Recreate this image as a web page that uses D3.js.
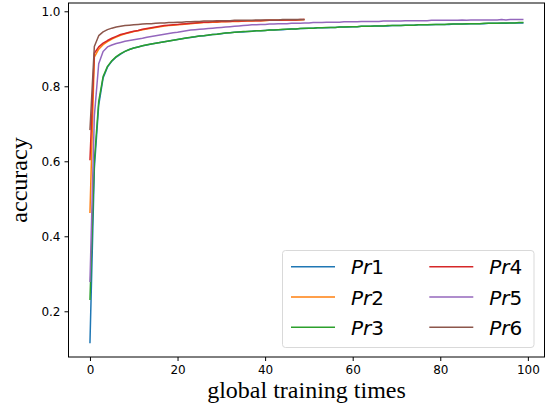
<!DOCTYPE html>
<html>
<head>
<meta charset="utf-8">
<script src="https://cdn.jsdelivr.net/npm/d3@7"></script>
<style>
  body { margin: 0; background: #fff; }
  svg { display: block; }
</style>
</head>
<body>
<div class="draw"></div>
<script>
// accuracy per global training round
const pr1 = [0.115, 0.580, 0.750, 0.822, 0.851, 0.867, 0.878, 0.886, 0.893, 0.898,
  0.902, 0.905, 0.908, 0.910, 0.913, 0.915, 0.917, 0.919, 0.921, 0.923,
  0.925, 0.927, 0.929, 0.930, 0.932, 0.934, 0.935, 0.936, 0.938, 0.939,
  0.940, 0.942, 0.943, 0.944, 0.945, 0.945, 0.946, 0.947, 0.948, 0.948,
  0.949, 0.950, 0.950, 0.951, 0.951, 0.952, 0.953, 0.953, 0.954, 0.954,
  0.955, 0.955, 0.956, 0.956, 0.956, 0.957, 0.957, 0.958, 0.958, 0.958,
  0.959, 0.959, 0.960, 0.960, 0.960, 0.961, 0.961, 0.961, 0.961, 0.962,
  0.962, 0.962, 0.963, 0.963, 0.963, 0.964, 0.964, 0.964, 0.964, 0.965,
  0.965, 0.965, 0.965, 0.966, 0.966, 0.966, 0.966, 0.967, 0.967, 0.967,
  0.967, 0.968, 0.968, 0.968, 0.968, 0.968, 0.969, 0.969, 0.969, 0.969];
const pr2 = [0.462, 0.878, 0.899, 0.911, 0.919, 0.926, 0.931, 0.936, 0.940, 0.943,
  0.946, 0.948, 0.951, 0.953, 0.955, 0.957, 0.959, 0.961, 0.962, 0.963,
  0.964, 0.965, 0.966, 0.967, 0.968, 0.969, 0.970, 0.970, 0.971, 0.971,
  0.972, 0.972, 0.973, 0.973, 0.973, 0.974, 0.974, 0.974, 0.975, 0.975,
  0.975, 0.976, 0.976, 0.976, 0.976, 0.977, 0.977, 0.977, 0.977, 0.978];
const pr3 = [0.230, 0.600, 0.760, 0.826, 0.853, 0.868, 0.879, 0.887, 0.893, 0.898,
  0.902, 0.905, 0.908, 0.911, 0.913, 0.915, 0.917, 0.919, 0.921, 0.923,
  0.925, 0.927, 0.929, 0.931, 0.932, 0.934, 0.935, 0.937, 0.938, 0.939,
  0.941, 0.942, 0.943, 0.944, 0.945, 0.946, 0.946, 0.947, 0.948, 0.948,
  0.949, 0.950, 0.950, 0.951, 0.952, 0.952, 0.953, 0.953, 0.954, 0.955,
  0.955, 0.955, 0.956, 0.956, 0.957, 0.957, 0.957, 0.958, 0.958, 0.959,
  0.959, 0.959, 0.960, 0.960, 0.960, 0.961, 0.961, 0.961, 0.962, 0.962,
  0.962, 0.962, 0.963, 0.963, 0.963, 0.964, 0.964, 0.964, 0.965, 0.965,
  0.965, 0.965, 0.966, 0.966, 0.966, 0.966, 0.967, 0.967, 0.967, 0.967,
  0.968, 0.968, 0.968, 0.968, 0.969, 0.969, 0.969, 0.969, 0.970, 0.970];
const pr4 = [0.603, 0.888, 0.905, 0.915, 0.922, 0.928, 0.933, 0.938, 0.941, 0.944,
  0.947, 0.949, 0.952, 0.954, 0.956, 0.958, 0.960, 0.962, 0.963, 0.964,
  0.965, 0.966, 0.967, 0.968, 0.969, 0.970, 0.971, 0.971, 0.972, 0.972,
  0.973, 0.973, 0.973, 0.974, 0.974, 0.974, 0.975, 0.975, 0.975, 0.975,
  0.976, 0.976, 0.976, 0.976, 0.977, 0.977, 0.977, 0.977, 0.978, 0.978];
const pr5 = [0.278, 0.720, 0.860, 0.893, 0.905, 0.910, 0.914, 0.917, 0.920, 0.922,
  0.924, 0.926, 0.928, 0.931, 0.933, 0.935, 0.937, 0.939, 0.941, 0.943,
  0.944, 0.946, 0.948, 0.950, 0.951, 0.952, 0.953, 0.954, 0.955, 0.956,
  0.957, 0.958, 0.959, 0.960, 0.961, 0.962, 0.963, 0.964, 0.964, 0.965,
  0.965, 0.966, 0.966, 0.967, 0.967, 0.967, 0.968, 0.968, 0.968, 0.969,
  0.969, 0.970, 0.970, 0.970, 0.971, 0.971, 0.971, 0.971, 0.972, 0.972,
  0.972, 0.972, 0.973, 0.973, 0.973, 0.973, 0.973, 0.974, 0.974, 0.974,
  0.974, 0.974, 0.975, 0.975, 0.975, 0.975, 0.975, 0.975, 0.976, 0.976,
  0.976, 0.976, 0.976, 0.976, 0.976, 0.977, 0.976, 0.977, 0.977, 0.977,
  0.977, 0.977, 0.977, 0.977, 0.978, 0.977, 0.978, 0.978, 0.978, 0.978];
const pr6 = [0.683, 0.906, 0.935, 0.945, 0.951, 0.955, 0.958, 0.960, 0.962, 0.963,
  0.964, 0.965, 0.966, 0.967, 0.967, 0.968, 0.969, 0.969, 0.970, 0.970,
  0.971, 0.971, 0.972, 0.972, 0.973, 0.973, 0.974, 0.974, 0.974, 0.975,
  0.975, 0.975, 0.975, 0.976, 0.976, 0.976, 0.976, 0.976, 0.977, 0.977,
  0.977, 0.977, 0.977, 0.977, 0.978, 0.978, 0.978, 0.978, 0.978, 0.978];

const seriesNames = ["1", "2", "3", "4", "5", "6"];
const seriesValues = [pr1, pr2, pr3, pr4, pr5, pr6];
const colors = ["#1f77b4", "#ff7f0e", "#2ca02c", "#d62728", "#9467bd", "#8c564b"];
const xTicks = [0, 20, 40, 60, 80, 100];
const yTicks = [0.2, 0.4, 0.6, 0.8, 1.0];

const width = 553, height = 413;
const plot = { left: 68.5, right: 544.5, top: 3, bottom: 357 };

const svg = d3.select(".draw")
    .append("svg")
    .attr("width", width)
    .attr("height", height);

const x = d3.scaleLinear()
    .domain([-4.9, 103.8])
    .range([plot.left, plot.right]);
const y = d3.scaleLinear()
    .domain([0.0781, 1.0221])
    .range([plot.bottom, plot.top]);

// clip so lines stay inside the axes box
svg.append("clipPath").attr("id", "clip")
  .append("rect")
    .attr("x", plot.left).attr("y", plot.top)
    .attr("width", plot.right - plot.left)
    .attr("height", plot.bottom - plot.top);

const line = d3.line()
    .x((d, i) => x(i))
    .y(d => y(d));

svg.append("g")
    .attr("clip-path", "url(#clip)")
  .selectAll("path")
  .data(seriesValues)
  .join("path")
    .attr("fill", "none")
    .attr("stroke", (d, i) => colors[i])
    .attr("stroke-width", 1.5)
    .attr("stroke-linejoin", "round")
    .attr("d", line);

//axes
const xAxis = d3.axisBottom(x)
    .tickValues(xTicks)
    .tickSize(4)
    .tickPadding(4)
    .tickFormat(d3.format("d"));
const yAxis = d3.axisLeft(y)
    .tickValues(yTicks)
    .tickSize(4)
    .tickPadding(4)
    .tickFormat(d3.format(".1f"));

const xAxisGroup = svg.append("g")
    .attr("transform", `translate(0, ${plot.bottom})`)
    .call(xAxis);
const yAxisGroup = svg.append("g")
    .attr("transform", `translate(${plot.left}, 0)`)
    .call(yAxis);

[xAxisGroup, yAxisGroup].forEach(g => {
  g.select(".domain").remove();
  g.selectAll("line").attr("stroke", "#000").attr("stroke-width", 1);
  g.selectAll("text")
    .attr("fill", "#000")
    .style("font-family", "'DejaVu Sans', sans-serif")
    .style("font-size", "12px");
});

// frame
svg.append("rect")
    .attr("x", plot.left).attr("y", plot.top)
    .attr("width", plot.right - plot.left)
    .attr("height", plot.bottom - plot.top)
    .attr("fill", "none")
    .attr("stroke", "#000")
    .attr("stroke-width", 1);

// axis labels
svg.append("text")
    .attr("x", (plot.left + plot.right) / 2)
    .attr("y", 398)
    .attr("text-anchor", "middle")
    .style("font-family", "'Liberation Serif', 'Times New Roman', serif")
    .style("font-size", "24px")
    .text("global training times");

svg.append("text")
    .attr("transform", `translate(27, ${(plot.top + plot.bottom) / 2}) rotate(-90)`)
    .attr("text-anchor", "middle")
    .style("font-family", "'Liberation Serif', 'Times New Roman', serif")
    .style("font-size", "24px")
    .text("accuracy");

// legend
const legend = svg.append("g");
legend.append("rect")
    .attr("x", 282.5).attr("y", 250.5)
    .attr("width", 251.5).attr("height", 97)
    .attr("rx", 3)
    .attr("fill", "#fff")
    .attr("fill-opacity", 0.8)
    .attr("stroke", "#d9d9d9")
    .attr("stroke-width", 1);

const entries = legend.selectAll("g.entry")
  .data(seriesNames)
  .join("g")
    .attr("class", "entry")
    .attr("transform", (d, i) => {
      const col = Math.floor(i / 3), row = i % 3;
      return `translate(${291 + col * 138.3}, ${266.7 + row * 30.3})`;
    });

entries.append("line")
    .attr("x1", 0).attr("x2", 44)
    .attr("stroke", (d, i) => colors[i])
    .attr("stroke-width", 1.5);

const label = entries.append("text")
    .attr("x", 60)
    .attr("y", 7.5)
    .style("font-family", "'DejaVu Sans', sans-serif")
    .style("font-size", "20px");
label.append("tspan").style("font-style", "italic").text("Pr");
label.append("tspan").text(d => d);
</script>
</body>
</html>
